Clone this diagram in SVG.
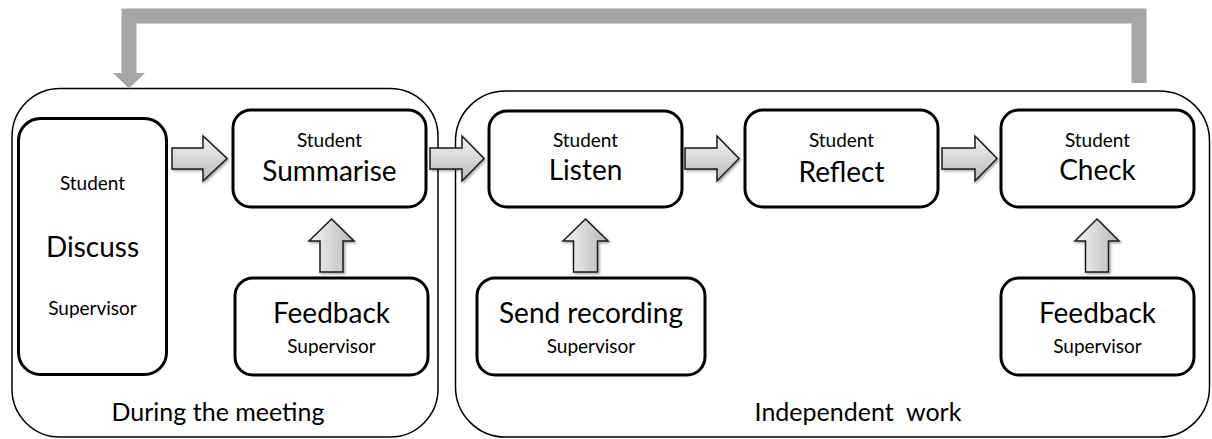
<svg xmlns="http://www.w3.org/2000/svg" width="1212" height="439" viewBox="0 0 1212 439">
  <defs>
    <linearGradient id="gradRight" x1="0" y1="0" x2="0" y2="1">
      <stop offset="0" stop-color="#f4f4f4"/>
      <stop offset="1" stop-color="#b9b9b9"/>
    </linearGradient>
    <linearGradient id="gradUp" x1="0" y1="0" x2="1" y2="0">
      <stop offset="0" stop-color="#f4f4f4"/>
      <stop offset="1" stop-color="#b9b9b9"/>
    </linearGradient>
    <filter id="shadow" x="-20%" y="-20%" width="150%" height="150%">
      <feDropShadow dx="1.5" dy="1.5" stdDeviation="1.2" flood-color="#000" flood-opacity="0.35"/>
    </filter>
  </defs>
  <style>
    .group { fill: #ffffff; stroke: #000; stroke-width: 1.5; }
    .box { fill: #ffffff; stroke: #000; stroke-width: 3; }
    .t { font-family: Lato, "Liberation Sans", sans-serif; fill: #000; text-anchor: middle; }
    .small { font-size: 19px; }
    .big { font-size: 28px; }
    .label { font-size: 25px; }
    .arrowR { fill: url(#gradRight); stroke: #1a1a1a; stroke-width: 1.5; stroke-linejoin: miter; filter: url(#shadow); }
    .arrowU { fill: url(#gradUp); stroke: #1a1a1a; stroke-width: 1.5; stroke-linejoin: miter; filter: url(#shadow); }
    .loop { fill: none; stroke: #a6a6a6; stroke-width: 15; stroke-linejoin: miter; }
  </style>

  <rect width="1212" height="439" fill="#ffffff"/>

  <!-- phase containers -->
  <g id="meeting">
    <rect class="group" x="12" y="88.5" width="426" height="348.5" rx="48" ry="48"/>
    <text class="t label" x="218" y="421">During the meeting</text>
  </g>
  <g id="independent">
    <rect class="group" x="455.5" y="91" width="754" height="346" rx="50" ry="50"/>
    <text class="t label" x="858" y="421" xml:space="preserve">Independent  work</text>
  </g>

  <!-- steps -->
  <g id="discuss">
    <rect class="box" x="18.5" y="118.5" width="148" height="256" rx="22" ry="22"/>
    <text class="t small" x="92.5" y="190">Student</text>
    <text class="t big" x="92.5" y="257">Discuss</text>
    <text class="t small" x="92.5" y="315">Supervisor</text>
  </g>
  <g id="summarise">
    <rect class="box" x="233" y="110" width="193" height="97" rx="18" ry="18"/>
    <text class="t small" x="329.5" y="147">Student</text>
    <text class="t big" x="329.5" y="181">Summarise</text>
  </g>
  <g id="feedback-meeting">
    <rect class="box" x="235" y="278" width="193" height="97" rx="18" ry="18"/>
    <text class="t big" x="331.5" y="323">Feedback</text>
    <text class="t small" x="331.5" y="353">Supervisor</text>
  </g>
  <g id="listen">
    <rect class="box" x="489" y="111" width="193" height="96" rx="18" ry="18"/>
    <text class="t small" x="585.5" y="147">Student</text>
    <text class="t big" x="585.5" y="180">Listen</text>
  </g>
  <g id="reflect">
    <rect class="box" x="745" y="110" width="193" height="97" rx="18" ry="18"/>
    <text class="t small" x="841.5" y="147">Student</text>
    <text class="t big" x="841.5" y="182">Reflect</text>
  </g>
  <g id="check">
    <rect class="box" x="1001" y="110" width="193" height="97" rx="18" ry="18"/>
    <text class="t small" x="1097.5" y="147">Student</text>
    <text class="t big" x="1097.5" y="180">Check</text>
  </g>
  <g id="send-recording">
    <rect class="box" x="477" y="278" width="228" height="97" rx="18" ry="18"/>
    <text class="t big" x="591" y="323">Send recording</text>
    <text class="t small" x="591" y="353">Supervisor</text>
  </g>
  <g id="feedback-independent">
    <rect class="box" x="1001" y="278" width="193" height="97" rx="18" ry="18"/>
    <text class="t big" x="1097.5" y="323">Feedback</text>
    <text class="t small" x="1097.5" y="353">Supervisor</text>
  </g>

  <!-- connectors -->
  <g id="connectors">
    <!-- loop back from the end of independent work to the next meeting -->
    <path class="loop" d="M1139 83 V16 H129 V74"/>
    <polygon fill="#a6a6a6" points="113,73 145,73 129,88.5"/>

    <!-- forward block arrows -->
    <path class="arrowR" d="M172 148 H203 V136 L227 158.5 L203 181 V169 H172 Z"/>
    <path class="arrowR" d="M430 148 H462 V136 L484 158.5 L462 181 V169 H430 Z"/>
    <path class="arrowR" d="M685 148 H717 V136 L739 158.5 L717 181 V169 H685 Z"/>
    <path class="arrowR" d="M942 148 H975 V136 L997 158.5 L975 181 V169 H942 Z"/>

    <!-- supervisor input arrows -->
    <path class="arrowU" d="M320 272 V241 H309 L331.5 219 L354 241 H343 V272 Z"/>
    <path class="arrowU" d="M573.5 272 V241 H563 L585.5 219 L608 241 H597.5 V272 Z"/>
    <path class="arrowU" d="M1085.5 272 V241 H1075 L1097 219 L1119 241 H1108.5 V272 Z"/>
  </g>
</svg>
